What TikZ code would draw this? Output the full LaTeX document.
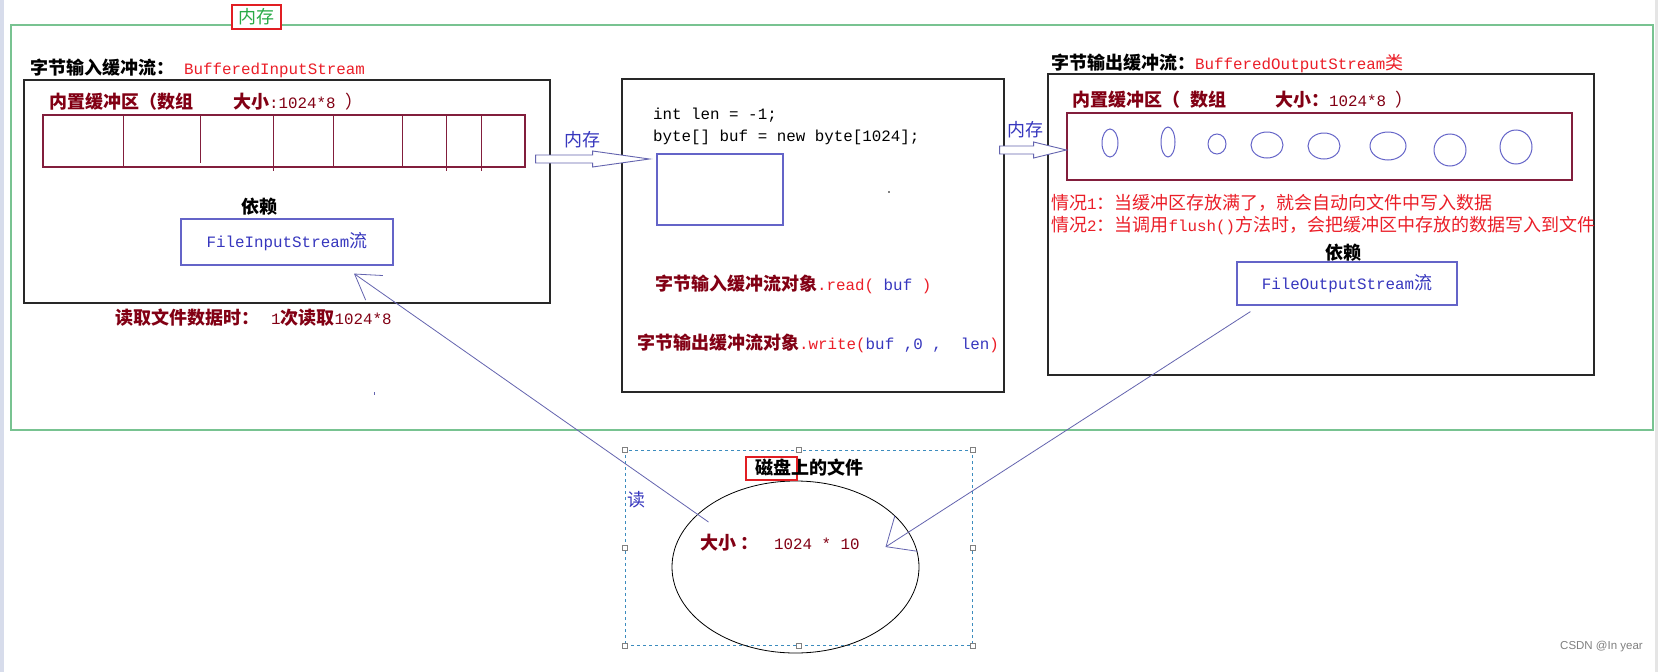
\documentclass[tikz,border=0pt]{standalone}
\usepackage{fontspec}
\setmainfont{Noto Sans CJK SC}
\setmonofont{Liberation Mono}[Scale=0.88]
\newfontfamily\wmfont{Liberation Sans}
\usetikzlibrary{arrows.meta,calc,shapes.geometric}
\definecolor{memgreen}{RGB}{40,170,70}
\definecolor{framegreen}{RGB}{120,195,145}
\definecolor{tagred}{RGB}{225,30,35}
\definecolor{hired}{RGB}{235,30,40}
\definecolor{darkred}{RGB}{130,0,20}
\definecolor{bufred}{RGB}{130,30,60}
\definecolor{textblue}{RGB}{55,55,190}
\definecolor{boxblue}{RGB}{100,100,200}
\definecolor{lineblue}{RGB}{100,100,175}
\definecolor{selblue}{RGB}{60,140,190}
\definecolor{boxgray}{RGB}{40,40,40}
\definecolor{edgeblue}{RGB}{215,220,235}

\begin{document}
\begin{tikzpicture}[
    x=1pt, y=-1pt,
    every node/.style={inner sep=0pt, font=\fontsize{18}{22}\selectfont},
    blackbox/.style={draw=boxgray, line width=1.3pt},
    bufbox/.style={draw=bufred, line width=1.2pt},
    bluebox/.style={draw=boxblue, line width=1.2pt},
    tagbox/.style={draw=tagred, line width=2pt, fill=white},
    cellline/.style={draw=bufred, line width=1pt},
    cellring/.style={draw=boxblue, line width=1pt},
    hollowarr/.style={draw=lineblue, line width=0.9pt, fill=white},
    linkline/.style={draw=lineblue, line width=0.8pt},
    handle/.style={draw=gray, fill=white, line width=0.6pt, minimum size=5pt},
    selrect/.style={draw=selblue, dashed, line width=0.8pt},
]
\useasboundingbox (0,0) rectangle (1658,672);
\fill[white] (0,0) rectangle (1658,672);
\fill[edgeblue] (0,0) rectangle (4,672);
\fill[gray!20] (1655,0) rectangle (1658,672);

% memory frame
\node[draw=framegreen, line width=1.3pt, minimum width=1642pt, minimum height=405pt] (memory) at (832,227.5) {};
\node[tagbox, text=memgreen, minimum width=49pt, minimum height=24pt] (memtag) at (256.5,17) {内存};

% input side
\node[anchor=west] (intitle) at (30,68) {{\bfseries 字节输入缓冲流：}\hspace{10pt}\textcolor{hired}{\texttt{BufferedInputStream}}};
\node[blackbox, minimum width=526pt, minimum height=223pt] (inbox) at (287,191.5) {};
\node[anchor=west, text=darkred] (inbuflabel) at (49,102) {{\bfseries 内置缓冲区（数组}\hspace{40pt}{\bfseries 大小}\texttt{:1024*8 }）};
\node[bufbox, minimum width=482pt, minimum height=52pt] (inbuf) at (284,141) {};
\foreach \x/\yb in {123/167,200/163,273/171,333/167,402/167,446/171,481/171}
    \draw[cellline] (\x,115) -- (\x,\yb);
\node[font=\fontsize{18}{22}\selectfont\bfseries] (indep) at (259,207) {依赖};
\node[bluebox, text=textblue, minimum width=212pt, minimum height=46pt] (fisbox) at (287,242) {\texttt{FileInputStream}流};
\node[anchor=west, text=darkred] (readnote) at (115,318) {{\bfseries 读取文件数据时：}\hspace{12pt}\texttt{1}{\bfseries 次读取}\texttt{1024*8}};

% middle
\node[blackbox, minimum width=382pt, minimum height=313pt] (midbox) at (813,235.5) {};
\node[anchor=west] (code1) at (653,115) {\texttt{int len = -1;}};
\node[anchor=west] (code2) at (653,137) {\texttt{byte[] buf = new byte[1024];}};
\node[bluebox, minimum width=126pt, minimum height=71pt] (bufarr) at (720,189.5) {};
\fill (889,192) circle (0.8);
\node[anchor=west, text=darkred] (readcall) at (655,284) {{\bfseries 字节输入缓冲流对象}\textcolor{hired}{\texttt{.read(}}\textcolor{textblue}{\texttt{\ buf\ }}\textcolor{hired}{\texttt{)}}};
\node[anchor=west, text=darkred] (writecall) at (637,343) {{\bfseries 字节输出缓冲流对象}\textcolor{hired}{\texttt{.write(}}\textcolor{textblue}{\texttt{buf ,0 ,\ \ len}}\textcolor{hired}{\texttt{)}}};

% output side
\node[anchor=west] (outtitle) at (1051,63) {{\bfseries 字节输出缓冲流：}\textcolor{hired}{\texttt{BufferedOutputStream}类}};
\node[blackbox, minimum width=546pt, minimum height=301pt] (outbox) at (1321,224.5) {};
\node[anchor=west, text=darkred] (outbuflabel) at (1072,100) {{\bfseries 内置缓冲区（}\hspace{10pt}{\bfseries 数组}\hspace{49pt}{\bfseries 大小：}\texttt{1024*8 }）};
\node[bufbox, minimum width=505pt, minimum height=67pt] (outbuf) at (1319.5,146.5) {};
\foreach \cx/\cy/\rx/\ry in {1110/143/8/14,1168/142/7/15,1217/144/9/10,1267/145/16/13,
                            1324/146/16/13,1388/146/18/14,1450/150/16/16,1516/147/16/17}
    \draw[cellring] (\cx,\cy) ellipse [x radius=\rx, y radius=\ry];
\node[anchor=west, text=hired] (case1) at (1051,203) {情况\texttt{1}：当缓冲区存放满了，就会自动向文件中写入数据};
\node[anchor=west, text=hired] (case2) at (1051,226) {情况\texttt{2}：当调用\texttt{flush()}方法时，会把缓冲区中存放的数据写入到文件};
\node[font=\fontsize{18}{22}\selectfont\bfseries] (outdep) at (1343,253) {依赖};
\node[bluebox, text=textblue, minimum width=220pt, minimum height=43pt] (fosbox) at (1347,283.5) {\texttt{FileOutputStream}流};

% hollow arrows into the byte array
\coordinate (tail1) at ($(inbuf.east)+(10,18)$);
\coordinate (tip1) at ($(bufarr.west)+(-7,-30.5)$);
\draw[hollowarr] ($(tail1)+(0,-4)$) -- ($(tail1)+(57,-4)$) -- ($(tail1)+(57,-8)$) -- (tip1)
    -- ($(tail1)+(57,8)$) -- ($(tail1)+(57,4)$) -- ($(tail1)+(0,4)$) -- cycle;
\node[text=textblue] (memarr1) at (582,140) {内存};
\coordinate (tail2) at ($(midbox.east)+(-5,-85.5)$);
\coordinate (tip2) at ($(outbuf.west)+(0,3.5)$);
\draw[hollowarr] ($(tail2)+(0,-4)$) -- ($(tail2)+(34,-4)$) -- ($(tail2)+(34,-8)$) -- (tip2)
    -- ($(tail2)+(34,8)$) -- ($(tail2)+(34,4)$) -- ($(tail2)+(0,4)$) -- cycle;
\node[text=textblue] (memarr2) at (1025,130) {内存};
\fill[lineblue] (373.6,392) rectangle (374.6,395);

% file on disk
\node[selrect, minimum width=347pt, minimum height=195pt] (selbox) at (798.5,547.5) {};
\node[draw, ellipse, line width=0.8pt, minimum width=247pt, minimum height=172pt] (diskfile) at (795.5,567) {};
\foreach \a in {north west,north,north east,west,east,south west,south,south east}
    \node[handle] (h-\a) at (selbox.\a) {};
\node[tagbox, minimum width=51pt, minimum height=23pt] (disktag) at (771.5,468.5) {};
\node[font=\fontsize{18}{22}\selectfont\bfseries] (disklabel) at (809,468) {磁盘上的文件};
\node[text=textblue] (readmark) at (636,500) {读};
\node[anchor=west, text=darkred] (disksize) at (700,543) {{\bfseries 大小}\hspace{4pt}{\bfseries ：}\hspace{16pt}\texttt{1024 * 10}};

% read / write links
\draw[linkline, -{Straight Barb[length=24pt, width=30pt]}] ($(diskfile.center)+(-87,-45)$) -- ($(fisbox.south)+(67,8)$);
\draw[linkline, -{Straight Barb[length=24pt, width=42pt]}] ($(fosbox.south west)+(14,6)$) -- ($(diskfile.center)+(90,-20)$);

\node[anchor=east, text=gray, font=\wmfont\fontsize{11.5}{14}\selectfont] (mark) at (1643,647) {CSDN @In year};
\end{tikzpicture}
\end{document}
